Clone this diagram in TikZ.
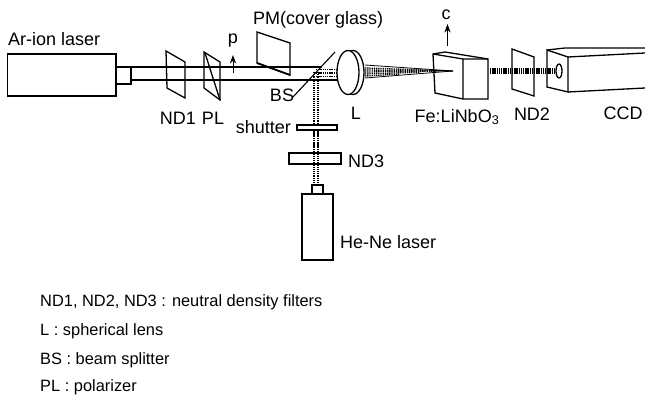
\documentclass[tikz,border=0pt]{standalone}
\usepackage{fontspec}
\setmainfont{Liberation Sans}
\usetikzlibrary{arrows.meta}
\tikzset{part/.style={draw,line width=1.3pt,fill=white},
  beam/.style={line width=1.3pt},
  dotbeam/.style={line width=1.3pt,dash pattern=on 1.3pt off 0.9pt},
  lbl/.style={inner sep=0pt,font=\fontsize{18}{20}\selectfont},
  note/.style={lbl,anchor=west,font=\fontsize{16.4}{18}\selectfont},
  arr/.style={-{Stealth[length=3mm,width=2.2mm]},line width=1pt}}
\begin{document}
\begin{tikzpicture}[x=1pt,y=-1pt]
\useasboundingbox (0,0) rectangle (645,395);
% Ar-ion laser and its beam
\draw[beam] (131,67)--(322,67) (131,80)--(312,80) (312,80)--(337,80);
\draw[part] (7.5,54) rectangle (116,96);
\draw[part] (116,67) rectangle (131,84);
\node[lbl,anchor=west] (arlaser) at (8,39) {Ar-ion laser};
% ND1, PL
\draw[part,fill=none] (166,51)--(185,62)--(185,98)--(167,88)--cycle;
\draw[part,fill=none] (204,52)--(220,62)--(220,100)--(204,88)--cycle;
\draw[line width=1.3pt] (205,53)--(220,100);
\node[lbl] (ndone) at (178,118) {ND1};
\node[lbl] (pl) at (213,118) {PL};
\coordinate (ptail) at (233,73);
\coordinate (phead) at (233,55);
\draw[arr] (ptail)--(phead);
\node[lbl] (p) at (233,41) {p};
% cover glass
\draw[part,fill=none] (257,32)--(290,43)--(290,75)--(257,63)--cycle;
\draw[line width=1.8pt] (257,63)--(290,75);
\node[lbl,anchor=west] (pm) at (253,20) {PM(cover glass)};
% beam splitter and He-Ne path
\foreach \x in {314,318}{ \draw[dotbeam] (\x,72)--(\x,186); }
\foreach \y in {69.5,73,76.5}{ \draw[dotbeam] (316,\y)--(338,\y); }
\draw[line width=1.1pt] (293,97)--(335,52);
\node[lbl] (bs) at (282,95) {BS};
\node[lbl,anchor=east] (shutterlbl) at (291,127) {shutter};
\draw[part] (297,125) rectangle (337,130);
\foreach \x in {314,318}{ \draw[dotbeam] (\x,131)--(\x,152); }
\draw[part,fill=none] (289,153) rectangle (341,164);
\node[lbl,anchor=west] (ndthree) at (348,161) {ND3};
\draw[part] (312,185) rectangle (323,194);
\draw[part] (302,194) rectangle (333,260);
\node[lbl,anchor=west] (henelaser) at (340,242) {He-Ne laser};
% lens and focus
\draw[part] (353,72.5) ellipse (11 and 22);
\draw[part] (348,72.5) ellipse (11 and 22);
\draw[line width=0.8pt] (365,65)--(453,71)--(365,78);
\foreach \y/\e in {68/428,70/440,72/436,74/420,76/400}{ \draw[dotbeam] (365,\y)--(\e,{\y+(71-\y)*(\e-365)/88}); }
\node[lbl] (lens) at (356,113) {L};
% crystal
\draw[line width=1.3pt] (433,54)--(445,52)--(488,59)--(488,99)--(463,99)--(435,93)--cycle;
\draw[line width=1.3pt] (433,54)--(463,59)--(463,99) (463,59)--(488,59);
\draw[line width=1.3pt] (430,70.5)--(453,71);
\coordinate (ctail) at (447.5,46);
\coordinate (chead) at (447.5,24);
\draw[arr] (ctail)--(chead);
\node[lbl] (c) at (446,15) {c};
\node[lbl] (crystal) at (457,117) {Fe:LiNbO\textsubscript{3}};
% ND2, CCD
\foreach \y in {69,71,73}{ \draw[dotbeam] (490,\y)--(558,\y); }
\draw[part,fill=none] (512,49)--(534,57)--(534,96)--(512,89)--cycle;
\node[lbl] (ndtwo) at (532,114) {ND2};
\draw[line width=1.3pt] (547,50)--(568,57)--(568,92)--(547,87)--cycle;
\draw[line width=1.3pt] (547,50)--(565,48)--(645,48) (568,57)--(645,53) (568,92)--(645,88);
\draw[part] (559,71) ellipse (3 and 7);
\node[lbl] (ccd) at (623,113) {CCD};
% legend
\node[note] (noteone) at (40,302) {ND1, ND2, ND3 : neutral density filters};
\node[note] (notetwo) at (40,331) {L : spherical lens};
\node[note] (notethree) at (40,360) {BS : beam splitter};
\node[note] (notefour) at (40,387) {PL : polarizer};
\end{tikzpicture}
\end{document}
